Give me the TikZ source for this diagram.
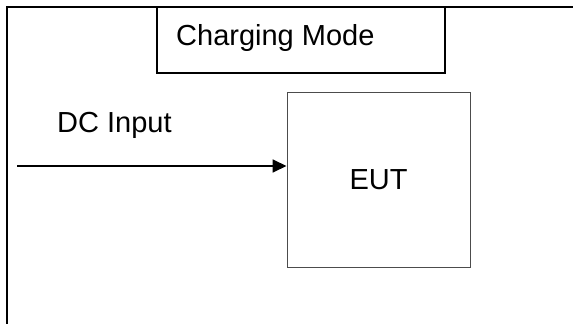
\documentclass[tikz,border=0pt]{standalone}
\usepackage{fontspec}
\setmainfont{Liberation Sans}
\usetikzlibrary{positioning, arrows.meta}

\begin{document}
\begin{tikzpicture}[
                    x=1pt, y=-1pt,
                    every node/.style={font=\fontsize{29}{34}\selectfont, inner sep=0pt},
                    frame/.style={line width=2pt},
                    modebox/.style={draw, line width=1.6pt, minimum width=288pt, minimum height=66pt},
                    eutbox/.style={draw=black!70, line width=1pt, minimum width=183pt, minimum height=175pt},
                    feed/.style={line width=1.8pt, -{Triangle[length=14pt, width=13pt]}}
                ]
                  \useasboundingbox (0,0) rectangle (573,324);
                  % outer frame, open at right and bottom
                  \coordinate (tr) at (573,7);
                  \coordinate (tl) at (7,7);
                  \coordinate (bl) at (7,324);
                  \draw[frame] (tr) -- (tl) -- (bl);

                  \node[modebox] (mode) at (301,40) {};
                  \node[anchor=base west] (modetext) at (176,45) {Charging Mode};

                  \node[eutbox] (eut) at (378.5,179.5) {EUT};

                  \node[anchor=base west] (dcin) at (57,132) {DC Input};
                  \coordinate (src) at (17,166);
                  \draw[feed] (src) -- (src -| eut.west);
                \end{tikzpicture}
\end{document}
